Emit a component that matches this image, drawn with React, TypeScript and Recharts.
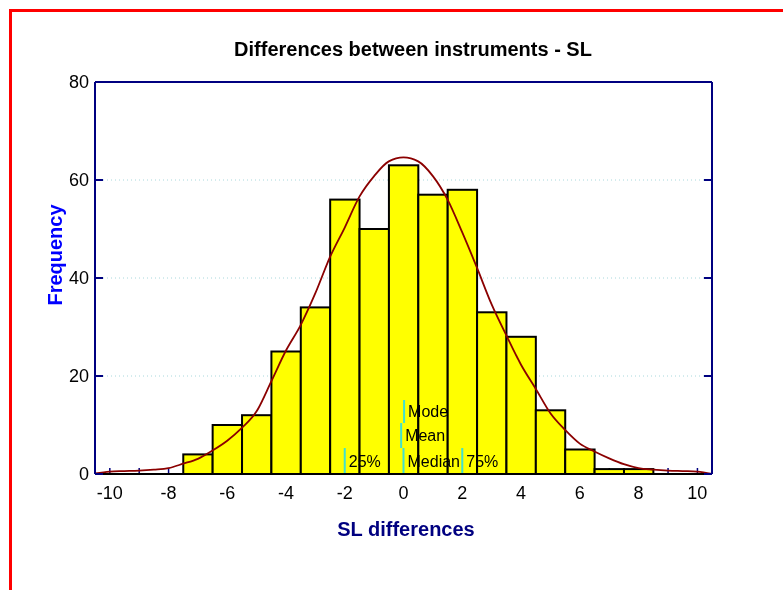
import React from 'react';
import {
  ComposedChart,
  Bar,
  Line,
  XAxis,
  YAxis,
  CartesianGrid,
  ReferenceLine,
} from 'recharts';

// histogram bins (centre of each bin) and their counts
const binCentres = [-10, -9, -8, -7, -6, -5, -4, -3, -2, -1, 0, 1, 2, 3, 4, 5, 6, 7, 8, 9, 10];
const binCounts = [0, 0, 0, 4, 10, 12, 25, 34, 56, 50, 63, 57, 58, 33, 28, 13, 5, 1, 1, 0, 0];

// fitted curve, every half unit
const curveX = [
  -10.5, -10, -9.5, -9, -8.5, -8, -7.5, -7, -6.5, -6, -5.5, -5, -4.5, -4, -3.5, -3, -2.5, -2, -1.5, -1, -0.5,
  0, 0.5, 1, 1.5, 2, 2.5, 3, 3.5, 4, 4.5, 5, 5.5, 6, 6.5, 7, 7.5, 8, 8.5, 9, 9.5, 10, 10.5,
];
const curveY = [
  0.1, 0.5, 0.6, 0.7, 0.9, 1.2, 2.1, 3.1, 4.8, 6.8, 9.4, 12.8, 18.9, 25.2, 30.4, 36.9, 44.3, 50.3, 56.6, 60.8, 63.8,
  64.6, 63.8, 60.8, 56, 49.3, 42.1, 34.6, 28.3, 22.3, 17.4, 12.4, 9, 6.2, 4.6, 3.2, 2.0, 1.2, 0.9, 0.7, 0.6, 0.5, 0,
];

// statistic markers: name, x value, and the frequency band the mark spans
const markerNames = ['25%', 'Median', '75%', 'Mean', 'Mode'];
const markerX = [-2, 0, 2, -0.08, 0.02];
const markerFrom = [0, 0, 0, 5.3, 10.4];
const markerTo = [5.3, 5.3, 5.3, 10.4, 15.1];

const xLabelTicks = [-10, -8, -6, -4, -2, 0, 2, 4, 6, 8, 10];
const yTicks = [0, 20, 40, 60, 80];

const W = 775;
const H = 574;
const M = { top: 73, right: 70, bottom: 78, left: 47 };
const Y_W = 40;
const X_H = 30;
const PLOT_W = W - M.left - M.right - Y_W - 1;
const BIN_W = PLOT_W / 21;

const FONT = '"Liberation Sans", Arial, sans-serif';
const NAVY = '#000080';

const histData = binCentres.map((x, i) => ({ x, count: binCounts[i] }));
const curveData = curveX.map((x, i) => ({ x, v: curveY[i] }));

// full-width bin centred on the bar's own centre, with the small inward
// axis tick drawn first so the bin covers it
const BinShape = (props: any) => {
  const { x, y, width, height } = props;
  const cx = x + width / 2;
  const base = y + (height || 0);
  return (
    <g>
      <line x1={cx} x2={cx} y1={base} y2={base - 6} stroke={NAVY} strokeWidth={1.5} />
      {height > 0 && (
        <rect x={cx - BIN_W / 2} y={y} width={BIN_W} height={height} fill="#ffff00" stroke="#000" strokeWidth={2} />
      )}
    </g>
  );
};

const App: React.FC = () => {
  return (
    <div style={{ position: 'relative', width: W, height: H, fontFamily: FONT }}>
      {/* red frame, fixed so it does not make the page scroll */}
      <div
        style={{
          position: 'fixed',
          left: 9,
          top: 9,
          width: 1000,
          height: 1000,
          border: '3px solid #ff0000',
          pointerEvents: 'none',
        }}
      />
      <div
        style={{
          position: 'absolute',
          left: 405 - 250,
          width: 500,
          top: 41 - 12,
          textAlign: 'center',
          fontSize: 20,
          fontWeight: 'bold',
          lineHeight: '24px',
          color: '#000',
        }}
      >
        Differences between instruments - SL
      </div>
      <div
        style={{
          position: 'absolute',
          left: 398 - 200,
          width: 400,
          top: 521 - 12,
          textAlign: 'center',
          fontSize: 20,
          fontWeight: 'bold',
          lineHeight: '24px',
          color: NAVY,
        }}
      >
        SL differences
      </div>
      <div
        style={{
          position: 'absolute',
          left: 47 - 100,
          width: 200,
          top: 247 - 12,
          textAlign: 'center',
          fontSize: 20,
          fontWeight: 'bold',
          lineHeight: '24px',
          color: '#0000ff',
          transform: 'rotate(-90deg)',
        }}
      >
        Frequency
      </div>
      <ComposedChart width={W} height={H} data={histData} margin={M}>
        <CartesianGrid vertical={false} stroke="#a8d8dc" strokeDasharray="1 3" />
        <XAxis
          dataKey="x"
          type="number"
          domain={[-10.5, 10.5]}
          ticks={xLabelTicks}
          interval={0}
          allowDataOverflow
          height={X_H}
          tickSize={0}
          tickMargin={12}
          tick={{ fill: '#000', fontSize: 18, fontFamily: FONT }}
          axisLine={{ stroke: '#000', strokeWidth: 2 }}
          tickLine={false}
        />
        <XAxis
          xAxisId="top"
          orientation="top"
          type="number"
          domain={[-10.5, 10.5]}
          allowDataOverflow
          height={1}
          tick={false}
          tickLine={false}
          axisLine={{ stroke: NAVY, strokeWidth: 2 }}
        />
        <YAxis
          type="number"
          domain={[0, 80]}
          ticks={yTicks}
          width={Y_W}
          tickSize={-8}
          tickMargin={14}
          tick={{ fill: '#000', fontSize: 18, fontFamily: FONT }}
          axisLine={{ stroke: NAVY, strokeWidth: 2 }}
          tickLine={{ stroke: NAVY, strokeWidth: 2 }}
        />
        <YAxis
          yAxisId="right"
          orientation="right"
          type="number"
          domain={[0, 80]}
          allowDataOverflow
          ticks={yTicks}
          interval={0}
          width={1}
          tickSize={-8}
          tickFormatter={() => ''}
          axisLine={{ stroke: NAVY, strokeWidth: 2 }}
          tickLine={{ stroke: NAVY, strokeWidth: 2 }}
        />
        <Bar dataKey="count" shape={BinShape} isAnimationActive={false} />
        {markerNames.map((name, i) => (
          <ReferenceLine
            key={name}
            segment={[
              { x: markerX[i], y: markerFrom[i] },
              { x: markerX[i], y: markerTo[i] },
            ]}
            stroke="#40e0d0"
            strokeWidth={2}
            label={{ value: name, position: 'right', offset: 4, fill: '#000', fontSize: 16, fontFamily: FONT }}
          />
        ))}
        <Line
          data={curveData}
          dataKey="v"
          type="monotone"
          stroke="#8b0000"
          strokeWidth={1.8}
          dot={false}
          isAnimationActive={false}
        />
        {/* invisible copy tied to the top/right axes so the frame is drawn */}
        <Line
          data={curveData}
          dataKey="v"
          xAxisId="top"
          yAxisId="right"
          stroke="none"
          dot={false}
          activeDot={false}
          isAnimationActive={false}
        />
      </ComposedChart>
    </div>
  );
};

export default App;
